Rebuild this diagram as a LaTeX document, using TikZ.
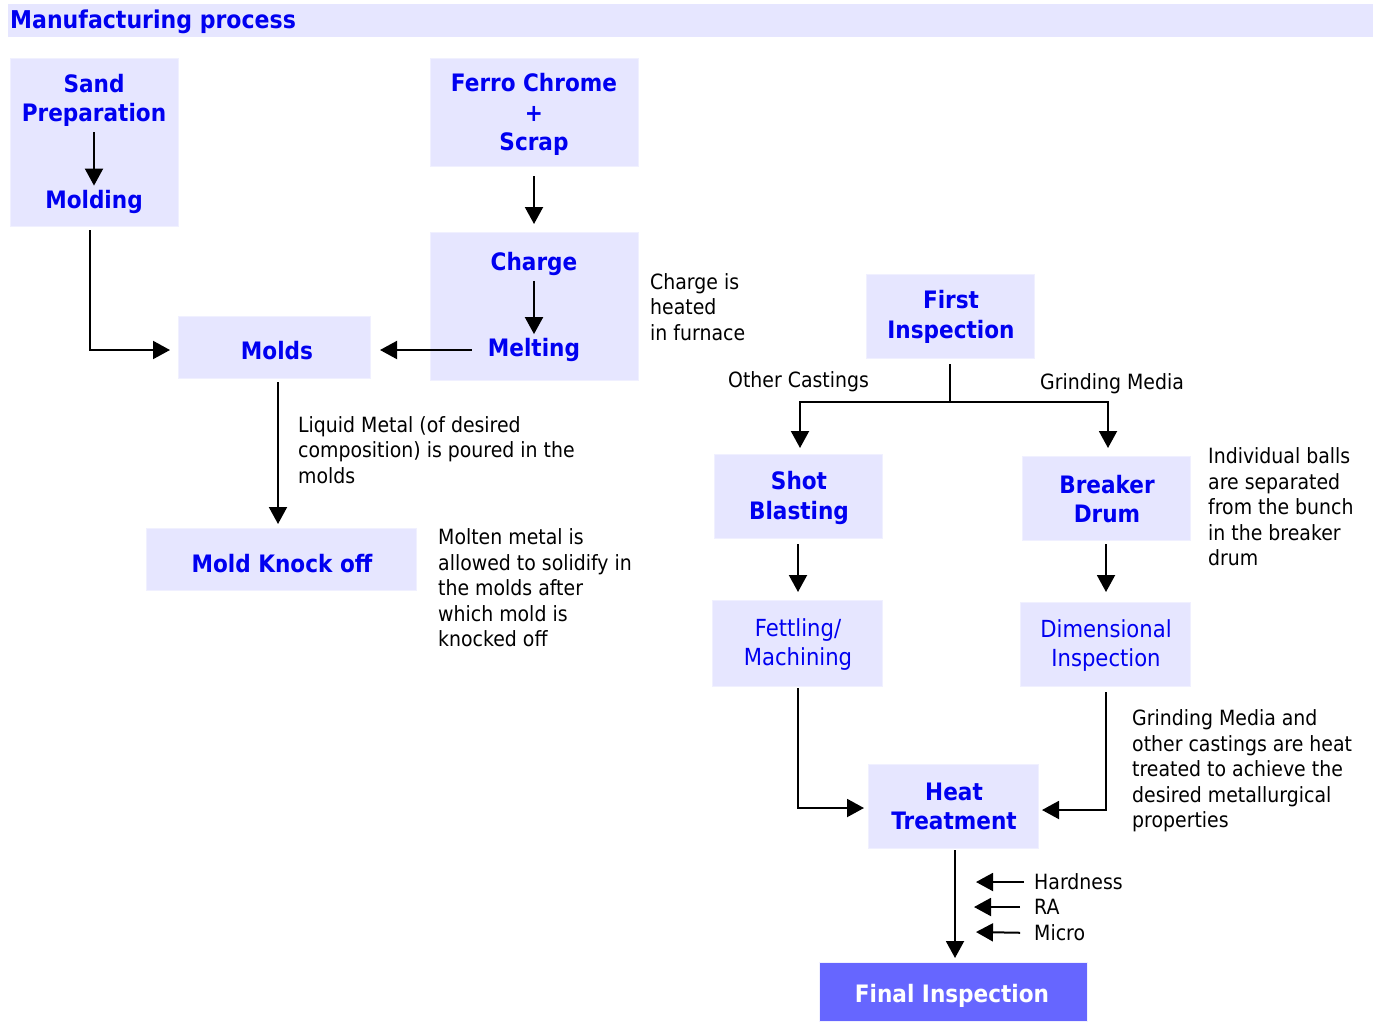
\documentclass[tikz,border=0pt]{standalone}
\usepackage{fontspec}
\setmainfont{DejaVu Sans}
\newfontfamily\cfont{DejaVu Sans}[FakeStretch=0.9]
\usetikzlibrary{arrows.meta}
\definecolor{boxfill}{RGB}{230,230,255}
\definecolor{boxedge}{RGB}{240,240,255}
\definecolor{txtblue}{RGB}{0,0,240}
\definecolor{finalfill}{RGB}{102,102,255}
\begin{document}
\begin{tikzpicture}[x=1pt,y=-1pt,
 box/.style={fill=boxfill, draw=boxedge, line width=1pt, inner sep=0pt, outer sep=0pt},
 btxt/.style={font=\cfont\fontsize{24}{29.5}\selectfont\bfseries, text=txtblue, align=center, inner sep=3pt},
 rtxt/.style={font=\cfont\fontsize{23.5}{29}\selectfont, text=txtblue, align=center, inner sep=3pt},
 note/.style={font=\cfont\fontsize{21}{25.5}\selectfont, align=left, anchor=west, inner sep=0pt},
 arr/.style={-{Triangle[width=18pt,length=17pt]}, line width=2pt},
 ln/.style={line width=2pt}]
\useasboundingbox (0,0) rectangle (1375,1023);
% title
\node[fill=boxfill, minimum width=1365pt, minimum height=33pt, inner sep=0pt] (titlebar) at (690.5,20.5) {};
\node[btxt, anchor=west, inner sep=0pt, font=\cfont\fontsize{24.5}{29.5}\selectfont\bfseries] (title) at (10,21.5) {Manufacturing process};
% boxes
\node[box, minimum width=168pt, minimum height=168pt] (sandbox) at (94,142) {};
\node[box, minimum width=208pt, minimum height=108pt] (ferrobox) at (534,112) {};
\node[box, minimum width=208pt, minimum height=148pt] (chargebox) at (534,306) {};
\node[box, minimum width=192pt, minimum height=62pt] (moldsbox) at (274,347) {};
\node[box, minimum width=270pt, minimum height=62pt] (knockbox) at (281,559) {};
\node[box, minimum width=168pt, minimum height=84pt] (firstbox) at (950,316) {};
\node[box, minimum width=168pt, minimum height=84pt] (shotbox) at (798,496) {};
\node[box, minimum width=168pt, minimum height=84pt] (breakerbox) at (1106,498) {};
\node[box, minimum width=170pt, minimum height=86pt] (fettbox) at (797,643) {};
\node[box, minimum width=170pt, minimum height=84pt] (dimbox) at (1105,644) {};
\node[box, minimum width=170pt, minimum height=84pt] (heatbox) at (953,806) {};
\node[box, fill=finalfill, minimum width=268pt, minimum height=59pt] (finalbox) at (953,991.5) {};
% box texts
\node[btxt] (sandt) at (94,100.5) {Sand\\Preparation};
\node[btxt] (molding) at (94,201.5) {Molding};
\node[btxt] (ferrot) at (534,114.5) {Ferro Chrome\\+\\Scrap};
\node[btxt] (charget) at (534,264) {Charge};
\node[btxt] (melting) at (534,350) {Melting};
\node[btxt] (moldst) at (277,351) {Molds};
\node[btxt] (knockt) at (282,564) {Mold Knock off};
\node[btxt] (firstt) at (951,317) {First\\Inspection};
\node[btxt] (shott) at (799,498) {Shot\\Blasting};
\node[btxt] (breakert) at (1107,499) {Breaker\\Drum};
\node[rtxt] (fettt) at (798,645) {Fettling/\\Machining};
\node[rtxt] (dimt) at (1106,646) {Dimensional\\Inspection};
\node[btxt] (heatt) at (954,806.5) {Heat\\Treatment};
\node[btxt, text=white] (finalt) at (952,996) {Final Inspection};
% notes
\node[note] (n1) at (650,307) {Charge is\\heated\\in furnace};
\node[note] (n2) at (298,450) {Liquid Metal (of desired\\composition) is poured in the\\molds};
\node[note] (n3) at (438,588) {Molten metal is\\allowed to solidify in\\the molds after\\which mold is\\knocked off};
\node[note] (n4) at (728,382) {Other Castings};
\node[note] (n5) at (1040,384) {Grinding Media};
\node[note] (n6) at (1208,507) {Individual balls\\are separated\\from the bunch\\in the breaker\\drum};
\node[note] (n7) at (1132,771) {Grinding Media and\\other castings are heat\\treated to achieve the\\desired metallurgical\\properties};
\node[note] (hard) at (1034,882) {Hardness};
\node[note] (ra) at (1034,907) {RA};
\node[note] (micro) at (1034,933) {Micro};
% connectors
\draw[arr, shorten <=2pt, shorten >=1pt] (sandt) -- (molding);
\draw[arr, shorten <=2pt, shorten >=1pt] (charget) -- (melting);
\draw[arr, shorten <=10pt, shorten >=8pt] (ferrobox.south) -- (chargebox.north);
\draw[arr, shorten <=13pt, shorten >=10pt] (melting.west) -- (moldsbox.east |- melting.west);
\draw[arr, shorten <=4pt, shorten >=8pt] ([xshift=-4pt]sandbox.south) |- ([yshift=-3pt]moldsbox.west);
\draw[arr, shorten <=4pt, shorten >=4pt] ([xshift=4pt]moldsbox.south) -- ([xshift=4pt]moldsbox.south |- knockbox.north);
\coordinate (split) at (950,402);
\draw[ln, shorten <=6pt] (firstbox.south) -- (split);
\draw[arr, shorten >=6pt] (split) -| ([xshift=2pt]shotbox.north);
\draw[arr, shorten >=8pt] (split) -| ([xshift=2pt]breakerbox.north);
\draw[arr, shorten <=6pt, shorten >=8pt] (shotbox.south) -- (shotbox.south |- fettbox.north);
\draw[arr, shorten <=4pt, shorten >=10pt] (breakerbox.south) -- (breakerbox.south |- dimbox.north);
\draw[arr, shorten <=2pt, shorten >=4pt] ([xshift=1pt]fettbox.south) |- ([yshift=-2pt]heatbox.west);
\draw[arr, shorten <=6pt, shorten >=4pt] ([xshift=1pt]dimbox.south) |- ([yshift=-4pt]heatbox.east);
\draw[arr, shorten <=2pt, shorten >=4pt] ([xshift=2pt]heatbox.south) -- ([xshift=2pt]heatbox.south |- finalbox.north);
\coordinate (ha) at (976,882);
\coordinate (raa) at (974,907);
\coordinate (ma) at (976,932);
\draw[arr, shorten <=10pt] (hard.west) -- (ha);
\draw[arr, shorten <=14pt] (ra.west) -- (raa);
\draw[arr, shorten <=14pt] (micro.west) -- (ma);
\end{tikzpicture}
\end{document}
